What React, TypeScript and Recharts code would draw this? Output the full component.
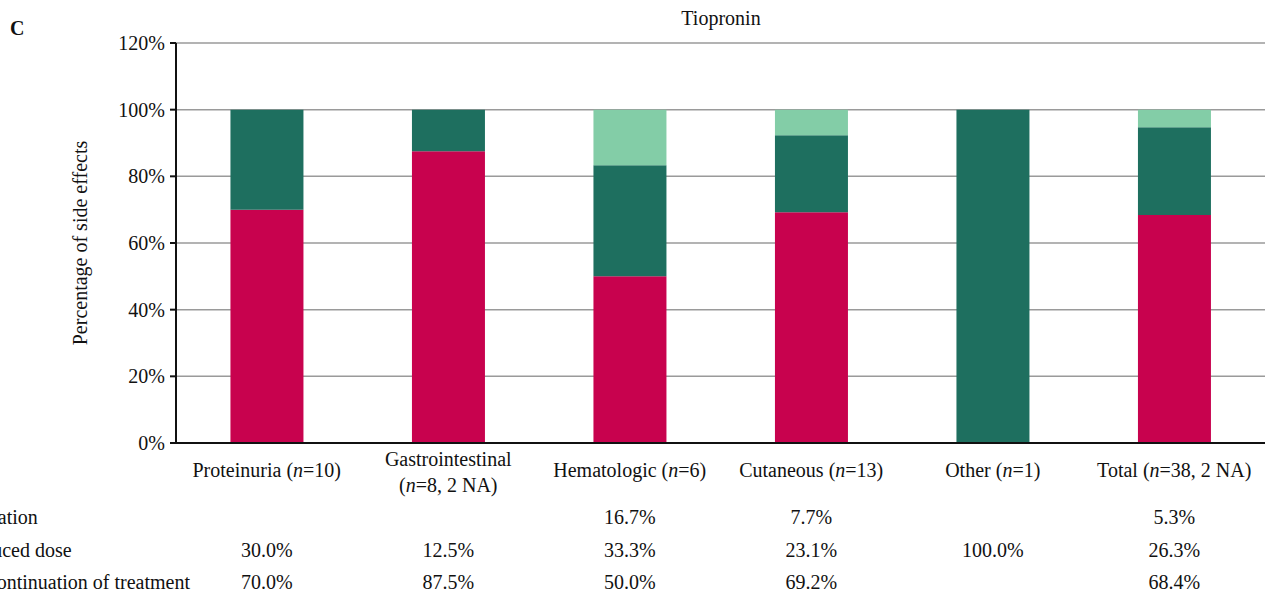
import React from "react";
import {
  BarChart,
  Bar,
  XAxis,
  YAxis,
  CartesianGrid,
  Customized,
} from "recharts";

const categories = ["Proteinuria", "Gastrointestinal", "Hematologic", "Cutaneous", "Other", "Total"];
const countLabels = ["=10)", "=8, 2 NA)", "=6)", "=13)", "=1)", "=38, 2 NA)"];
const wrapLabel = [false, true, false, false, false, false];

const discontinuation = [70.0, 87.5, 50.0, 69.2, 0, 68.4];
const reducedDose = [30.0, 12.5, 33.3, 23.1, 100.0, 26.3];
const cessation = [0, 0, 16.7, 7.7, 0, 5.3];

const rowLabels = ["Cessation", "Reduced dose", "Discontinuation of treatment"];
const yTicks = [0, 20, 40, 60, 80, 100, 120];

const RED = "#C8024E";
const DARK = "#1E6F5F";
const LIGHT = "#83CDA7";
const FONT = "'Liberation Serif', 'Times New Roman', serif";
const FS = 20;

const data = categories.map((name, i) => ({
  name,
  disc: discontinuation[i],
  reduced: reducedDose[i],
  cess: cessation[i],
}));

const fmt = (v: number) => (v > 0 ? `${v.toFixed(1)}%` : "");

function CategoryTick(props: any) {
  const { x, y, payload } = props;
  const i: number = payload.index ?? props.index;
  const rows = [cessation[i], reducedDose[i], discontinuation[i]];
  const rowY = [74, 107, 139];
  const name = (
    <>
      {"("}
      <tspan fontStyle="italic">n</tspan>
      {countLabels[i]}
    </>
  );
  return (
    <g fontFamily={FONT} fontSize={FS} fill="#111">
      {wrapLabel[i] ? (
        <>
          <text x={x} y={y + 16} textAnchor="middle" dominantBaseline="central">
            {categories[i]}
          </text>
          <text x={x} y={y + 42} textAnchor="middle" dominantBaseline="central">
            {name}
          </text>
        </>
      ) : (
        <text x={x} y={y + 27} textAnchor="middle" dominantBaseline="central">
          {categories[i] + " "}
          {name}
        </text>
      )}
      {rows.map((v, r) => (
        <text key={r} x={x} y={y + rowY[r]} textAnchor="middle" dominantBaseline="central">
          {fmt(v)}
        </text>
      ))}
      {i === 0 &&
        rowLabels.map((t, r) => (
          <text key={"l" + r} x={-40} y={y + rowY[r]} textAnchor="start" dominantBaseline="central">
            {t}
          </text>
        ))}
    </g>
  );
}

function Annotations() {
  return (
    <g fontFamily={FONT} fill="#111">
      <text x={10} y={28} fontSize={FS} fontWeight="bold" dominantBaseline="central">
        C
      </text>
      <text x={721} y={18} fontSize={FS} textAnchor="middle" dominantBaseline="central">
        Tiopronin
      </text>
      <text
        x={80}
        y={243}
        fontSize={FS}
        textAnchor="middle"
        dominantBaseline="central"
        transform="rotate(-90 80 243)"
      >
        Percentage of side effects
      </text>
    </g>
  );
}

export default function App() {
  return (
    <div style={{ position: "absolute", left: 0, top: 0, background: "#fff" }}>
      <BarChart
        width={1279}
        height={593}
        data={data}
        margin={{ top: 43, right: 14, bottom: 0, left: 0 }}
        barCategoryGap="30%"
      >
        <CartesianGrid vertical={false} stroke="#9a9a9a" strokeWidth={1.5} />
        <XAxis
          dataKey="name"
          height={150}
          tickLine={false}
          tickSize={0}
          tickMargin={0}
          axisLine={{ stroke: "#111", strokeWidth: 2 }}
          tick={<CategoryTick />}
          interval={0}
        />
        <YAxis
          width={176}
          domain={[0, 120]}
          ticks={yTicks}
          tickFormatter={(v) => `${v}%`}
          tick={{ fontSize: FS, fill: "#111", fontFamily: FONT }}
          tickLine={{ stroke: "#111", strokeWidth: 2 }}
          tickSize={6}
          tickMargin={5}
          axisLine={{ stroke: "#111", strokeWidth: 2 }}
        />
        <Bar dataKey="disc" stackId="a" fill={RED} isAnimationActive={false} />
        <Bar dataKey="reduced" stackId="a" fill={DARK} isAnimationActive={false} />
        <Bar dataKey="cess" stackId="a" fill={LIGHT} isAnimationActive={false} />
        <Customized component={<Annotations />} />
      </BarChart>
    </div>
  );
}
